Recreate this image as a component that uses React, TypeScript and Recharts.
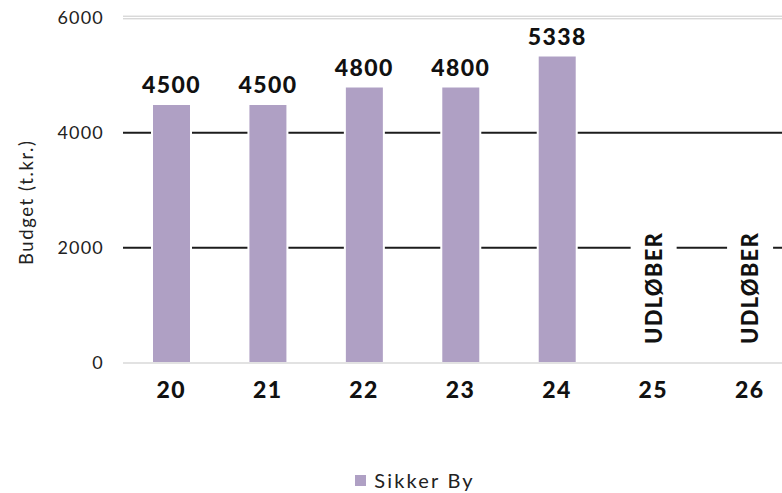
import { BarChart, Bar, XAxis, YAxis, CartesianGrid, Legend, LabelList, Label } from "recharts";

// Budget per year (t.kr.) — 25 and 26 have expired
const YEARS = ["20", "21", "22", "23", "24", "25", "26"];
const BUDGET = [4500, 4500, 4800, 4800, 5338, 0, 0];
const STATUS = ["", "", "", "", "", "UDLØBER", "UDLØBER"];
const Y_TICKS = [0, 2000, 4000, 6000];
const SERIES_NAME = "Sikker By";

const BAR_COLOR = "#afa0c4";
const FONT = "Lato, 'Open Sans', sans-serif";

const data = YEARS.map((year, i) => ({
  year,
  budget: BUDGET[i],
  label: BUDGET[i] > 0 ? String(BUDGET[i]) : STATUS[i],
}));

// horizontal grid: double grey line at top, black lines in between, none at zero
const renderGridLine = (props: any) => {
  const { x1, x2, y1, index } = props;
  if (y1 > 340) return <g key={`h-${index}`} />;
  if (y1 < 40) {
    return (
      <g key={`h-${index}`}>
        <line x1={x1} x2={x2} y1={y1 - 1.3} y2={y1 - 1.3} stroke="#c8c8c8" strokeWidth={1} />
        <line x1={x1} x2={x2} y1={y1 + 1.3} y2={y1 + 1.3} stroke="#c8c8c8" strokeWidth={1} />
      </g>
    );
  }
  return <line key={`h-${index}`} x1={x1} x2={x2} y1={y1} y2={y1} stroke="#1c1c1c" strokeWidth={2} />;
};

const BarLabel = (props: any) => {
  const { x, y, width, value } = props;
  const cx = x + width / 2;
  if (value === "UDLØBER") {
    return (
      <g>
        <rect x={cx - 23} y={228} width={46} height={122} fill="#fff" />
        <text
          x={cx}
          y={288}
          transform={`rotate(-90 ${cx} ${288})`}
          textAnchor="middle"
          dy="0.36em"
          fontFamily={FONT}
          fontWeight={900}
          fontSize={22}
          letterSpacing={1.2}
          fill="#111"
        >
          {value}
        </text>
      </g>
    );
  }
  return (
    <text x={cx} y={y - 11} textAnchor="middle" fontFamily={FONT} fontWeight={900} fontSize={23} letterSpacing={1.4} fill="#111">
      {value}
    </text>
  );
};

const XTick = (props: any) => {
  const { x, y, payload } = props;
  return (
    <text x={x} y={y + 27} textAnchor="middle" fontFamily={FONT} fontWeight={900} fontSize={23} letterSpacing={1.4} fill="#111">
      {payload.value}
    </text>
  );
};

const YLabel = (props: any) => {
  const { viewBox } = props;
  const cx = 33;
  const cy = viewBox.y + viewBox.height / 2 + 12;
  return (
    <text
      x={cx}
      y={cy}
      transform={`rotate(-90 ${cx} ${cy})`}
      textAnchor="middle"
      fontFamily={FONT}
      fontSize={18.5}
      letterSpacing={1.6}
      fill="#222"
    >
      Budget (t.kr.)
    </text>
  );
};

const LegendContent = () => (
  <div style={{ display: "flex", justifyContent: "center", alignItems: "center", fontFamily: FONT, fontSize: 20, letterSpacing: 2.2, color: "#222" }}>
    <span style={{ display: "inline-block", width: 11, height: 11, background: BAR_COLOR, marginRight: 8 }} />
    {SERIES_NAME}
  </div>
);

export default function App() {
  return (
    <div style={{ position: "absolute", left: 0, top: 0, width: 782, height: 493, overflow: "hidden", background: "#fff" }}>
      <BarChart width={830} height={493} data={data} margin={{ top: 17.5, right: 32, bottom: 0, left: 0 }}>
        <CartesianGrid vertical={false} horizontal={renderGridLine} />
        <XAxis
          dataKey="year"
          axisLine={{ stroke: "#d9d9d9", strokeWidth: 1.5 }}
          tickLine={false}
          height={100}
          tick={<XTick />}
          interval={0}
        />
        <YAxis
          domain={[0, 6000]}
          ticks={Y_TICKS}
          width={123}
          axisLine={false}
          tickLine={false}
          tickMargin={13}
          tick={{ fontFamily: FONT, fontSize: 18, fill: "#222", letterSpacing: 1.2 }}
        >
          <Label content={<YLabel />} />
        </YAxis>
        <Legend height={30} content={<LegendContent />} wrapperStyle={{ left: 0, width: 830, bottom: -5 }} />
        <Bar
          dataKey="budget"
          name={SERIES_NAME}
          fill={BAR_COLOR}
          stroke="#fff"
          strokeWidth={2}
          barSize={39}
          minPointSize={1}
          isAnimationActive={false}
        >
          <LabelList dataKey="label" content={<BarLabel />} />
        </Bar>
      </BarChart>
    </div>
  );
}
